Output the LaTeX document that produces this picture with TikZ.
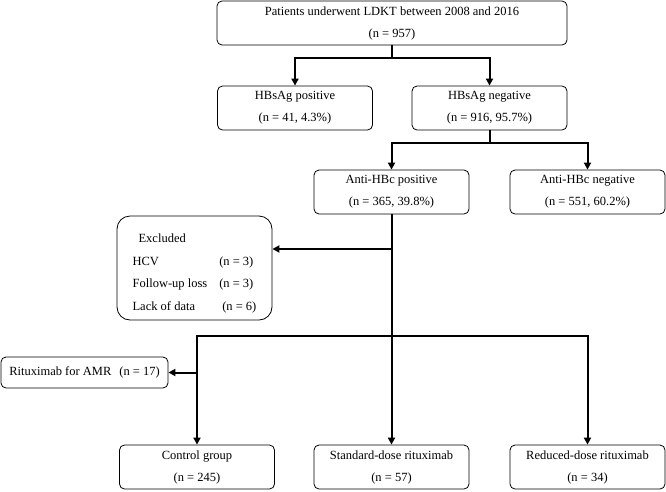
\documentclass[tikz,border=0pt]{standalone}
\usepackage{fontspec}
\setmainfont{Liberation Serif}
\usetikzlibrary{arrows.meta, positioning}

\begin{document}
\begin{tikzpicture}[x=1pt, y=-1pt,
  box/.style={draw, line width=0.8pt, rounded corners=5pt, minimum width=155pt, minimum height=44pt, inner sep=2pt, align=center, font=\fontsize{12.5}{22}\selectfont},
  conn/.style={line width=2pt, -{Triangle[length=7pt, width=7pt]}},
  trunk/.style={line width=2pt}]
\useasboundingbox (0,0) rectangle (666,491);

% boxes
\draw (392,23) node[box, minimum width=350pt] (all) {Patients underwent LDKT between 2008 and 2016\\(n = 957)}
  (295,108) node[box] (spos) {HBsAg positive\\(n = 41, 4.3\%)}
  (489.5,108) node[box] (sneg) {HBsAg negative\\(n = 916, 95.7\%)}
  (391.5,192) node[box] (cpos) {Anti-HBc positive\\(n = 365, 39.8\%)}
  (587.5,192) node[box] (cneg) {Anti-HBc negative\\(n = 551, 60.2\%)}
  (194.5,268) node[box, rounded corners=13pt, minimum height=104pt, align=left, font=\fontsize{12.5}{22.5}\selectfont] (excl)
    {\raisebox{0pt}[\dimexpr\height+8pt][\depth]{\begin{tabular}{@{}l@{\hspace{12pt}}l@{}}
       \hspace{6pt}Excluded & \\
       HCV & (n = 3)\\
       Follow-up loss & (n = 3)\\
       Lack of data & \hspace{3pt}(n = 6)
     \end{tabular}}}
  (84.5,372.5) node[box, minimum width=167pt, minimum height=31pt] (amr) {Rituximab for AMR\hspace{8pt}(n = 17)}
  (197,467) node[box] (ctrl) {Control group\\(n = 245)}
  (391.5,467) node[box] (std) {Standard-dose rituximab\\(n = 57)}
  (587.5,467) node[box] (red) {Reduced-dose rituximab\\(n = 34)};

% joints
\coordinate (j1) at (392,58);
\coordinate (j2) at (489.5,143);
\coordinate (j3) at (391.5,249);
\coordinate (j4) at (391.5,336);
\coordinate (j5) at (197,372.5);

% connectors
\draw[trunk] (all.south) -- (j1);
\draw[conn] (j1) -| (spos.north);
\draw[conn] (j1) -| (sneg.north);
\draw[trunk] (sneg.south) -- (j2);
\draw[conn] (j2) -| (cpos.north);
\draw[conn] (j2) -| (cneg.north);
\draw[trunk] (cpos.south) -- (j4);
\draw[conn] (j3) -- (j3 -| excl.east);
\draw[conn] (j4) -| (ctrl.north);
\draw[conn] (j4) -- (std.north);
\draw[conn] (j4) -| (red.north);
\draw[conn] (j5) -- (amr.east);
\end{tikzpicture}
\end{document}
